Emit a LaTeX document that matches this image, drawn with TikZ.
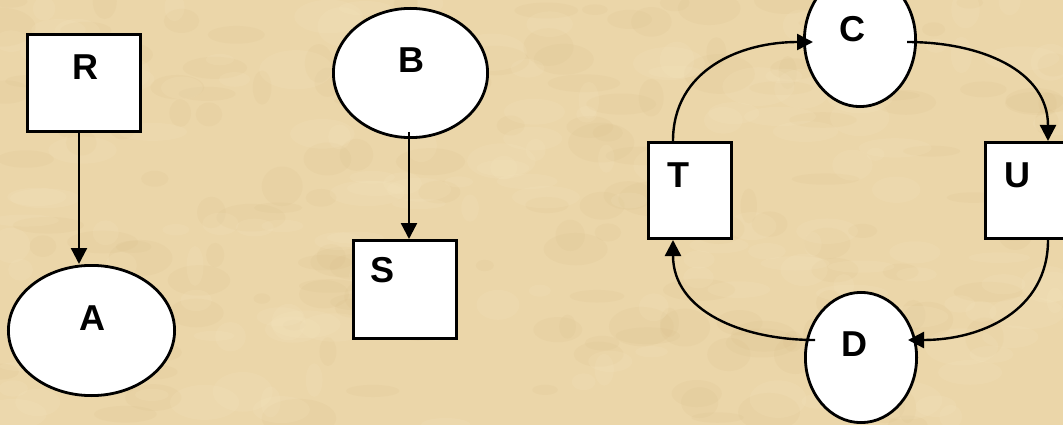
\documentclass[tikz,border=0pt]{standalone}
\usepackage{fontspec}
\setmainfont{Liberation Sans}
\usetikzlibrary{shapes.geometric,arrows.meta,calc}
\definecolor{parchment}{HTML}{EBD6A9}
\definecolor{parchdark}{HTML}{D6BA84}
\definecolor{parchlight}{HTML}{F7E8C4}
\tikzset{
  boxshape/.style={draw=black, fill=white, line width=3pt, rectangle, inner sep=0pt},
  ovalshape/.style={draw=black, fill=white, line width=2.8pt, ellipse, inner sep=0pt},
  letter/.style={font=\bfseries\fontsize{36}{40}\selectfont, anchor=base, inner sep=0pt},
  flow/.style={line width=2.4pt, -{Triangle[length=16pt,width=16pt]}},
}
\begin{document}
\begin{tikzpicture}[x=1pt,y=-1pt]
\useasboundingbox (0,0) rectangle (1063,425);
% parchment background with soft mottling
\fill[parchment] (0,0) rectangle (1063,425);
\begin{scope}
  \clip (0,0) rectangle (1063,425);
  \pgfmathsetseed{11}
  \foreach \i in {1,...,160}{
    \pgfmathsetmacro\px{rnd*1063}
    \pgfmathsetmacro\py{rnd*425}
    \pgfmathsetmacro\rx{8+rnd*30}
    \pgfmathsetmacro\ry{5+rnd*15}
    \fill[parchdark, opacity=0.12] (\px,\py) ellipse [x radius=\rx, y radius=\ry];
  }
  \foreach \i in {1,...,160}{
    \pgfmathsetmacro\px{rnd*1063}
    \pgfmathsetmacro\py{rnd*425}
    \pgfmathsetmacro\rx{8+rnd*30}
    \pgfmathsetmacro\ry{5+rnd*15}
    \fill[parchlight, opacity=0.15] (\px,\py) ellipse [x radius=\rx, y radius=\ry];
  }
\end{scope}

% left pair
\node[boxshape, minimum width=113pt, minimum height=97pt] (R) at (84,83) {};
\node[ovalshape, minimum width=166.2pt, minimum height=130.2pt] (A) at (91.5,330.5) {};
% middle pair
\node[ovalshape, minimum width=154.2pt, minimum height=129.2pt] (B) at (410.5,73) {};
\node[boxshape, minimum width=103pt, minimum height=98pt] (S) at (405,289.5) {};
% cycle
\node[ovalshape, minimum width=111.2pt, minimum height=133.2pt] (C) at (860,40) {};
\node[ovalshape, minimum width=111.2pt, minimum height=130.2pt] (D) at (861,357.5) {};
\node[boxshape, minimum width=83pt, minimum height=96pt] (T) at (690,190.5) {};
\node[boxshape, minimum width=83pt, minimum height=96pt] (U) at (1027,190.5) {};

% labels
\node[letter] (R-txt) at (85,80) {R};
\node[letter] (A-txt) at (92,330) {A};
\node[letter] (B-txt) at (411,73) {B};
\node[letter] (S-txt) at (383,282) {S};
\node[letter] (C-txt) at (852,42) {C};
\node[letter] (D-txt) at (854,356) {D};
\node[letter] (T-txt) at (678,187) {T};
\node[letter] (U-txt) at (1017,187) {U};

% connectors
\draw[flow] ([xshift=-5pt]R.south) -- ([xshift=-5pt]R.south |- A.north);
\coordinate (b-out) at ($(B.center)+(-1.5,59)$);
\draw[flow] (b-out) -- (b-out |- S.north);

\draw[flow] ([xshift=-17pt]T.north) .. controls +(0,-71) and +(-73,0) .. ($(C.center)+(-47,2)$);
\draw[flow] ($(C.center)+(47,2)$) .. controls +(73,0) and +(0,-71) .. ([xshift=21pt]U.north);
\draw[flow] ([xshift=21pt]U.south) .. controls +(0,71) and +(73,0) .. ($(D.center)+(47,-17.5)$);
\draw[flow] ($(D.center)+(-46,-17.5)$) .. controls +(-73,0) and +(0,71) .. ([xshift=-17pt]T.south);
\end{tikzpicture}
\end{document}
